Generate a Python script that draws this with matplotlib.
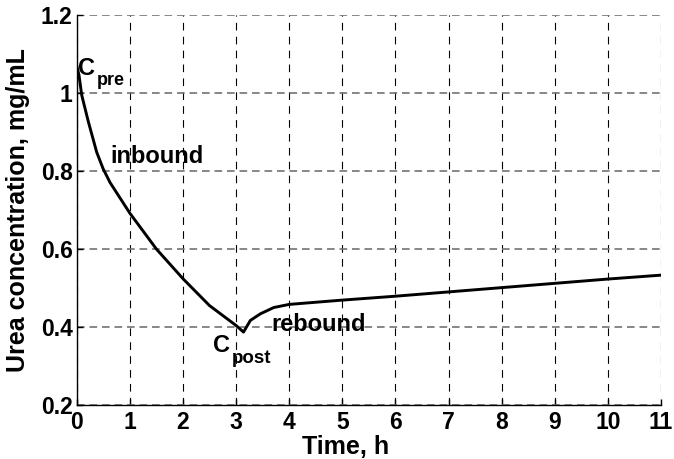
import matplotlib
matplotlib.use("Agg")
import matplotlib.pyplot as plt

plt.rcParams['font.family'] = ['Liberation Sans', 'DejaVu Sans']
plt.rcParams['font.weight'] = 'bold'
plt.rcParams['lines.scale_dashes'] = False

# Data
time_h = [0, 0.043, 0.094, 0.22, 0.377, 0.5, 0.63, 1.0, 1.5, 2.0, 2.5, 3.0, 3.14,
          3.27, 3.46, 3.71, 4.0, 5, 6, 7, 8, 9, 10, 11]
urea = [1.07, 1.046, 0.995, 0.926, 0.848, 0.805, 0.770, 0.692, 0.60, 0.524, 0.455, 0.404, 0.387,
        0.417, 0.434, 0.45, 0.458, 0.469, 0.479, 0.490, 0.501, 0.512, 0.523, 0.533]
xticks = list(range(0, 12))
yticks = [0.2, 0.4, 0.6, 0.8, 1.0, 1.2]
ytick_labels = ['0.2', '0.4', '0.6', '0.8', '1', '1.2']

fig = plt.figure(figsize=(6.74, 4.59), dpi=100)
ax = fig.add_axes([0.1138, 0.1176, 0.8669, 0.8497])

ax.plot(time_h, urea, color='black', lw=2.1, solid_joinstyle='round')

ax.set_xlim(0, 11)
ax.set_ylim(0.2, 1.2)
ax.set_xticks(xticks)
ax.set_yticks(yticks)
ax.set_yticklabels(ytick_labels)

for s in ['top', 'right']:
    ax.spines[s].set_visible(False)
for s in ['left', 'bottom']:
    ax.spines[s].set_linewidth(1.0)

ax.tick_params(direction='in', length=4.5, width=1.0, labelsize=16.5)
ax.tick_params(axis='x', pad=4)
ax.tick_params(axis='y', pad=3)

ax.grid(True, axis='x', color='black', lw=0.8, linestyle=(0, (5.5, 4.5)))
ax.grid(True, axis='y', color='0.45', lw=1.2, linestyle=(0, (5.5, 3.5)))

ax.set_xlabel('Time, h', fontsize=18, fontweight='bold')
ax.xaxis.set_label_coords(0.461, -0.077)
ax.set_ylabel('Urea concentration, mg/mL', fontsize=18, fontweight='bold', va='center')
ax.yaxis.set_label_coords(-0.101, 0.5)

ax.text(0.025, 1.046, 'C', fontsize=17, fontweight='bold', ha='left', va='baseline')
ax.text(0.383, 1.021, 'pre', fontsize=13, fontweight='bold', ha='left', va='baseline')
ax.text(0.628, 0.820, 'inbound', fontsize=17, fontweight='bold', ha='left', va='baseline')
ax.text(2.57, 0.336, 'C', fontsize=17, fontweight='bold', ha='left', va='baseline')
ax.text(2.92, 0.307, 'post', fontsize=13.5, fontweight='bold', ha='left', va='baseline')
ax.text(3.67, 0.389, 'rebound', fontsize=17, fontweight='bold', ha='left', va='baseline')

fig.savefig('out.png', dpi=100)
